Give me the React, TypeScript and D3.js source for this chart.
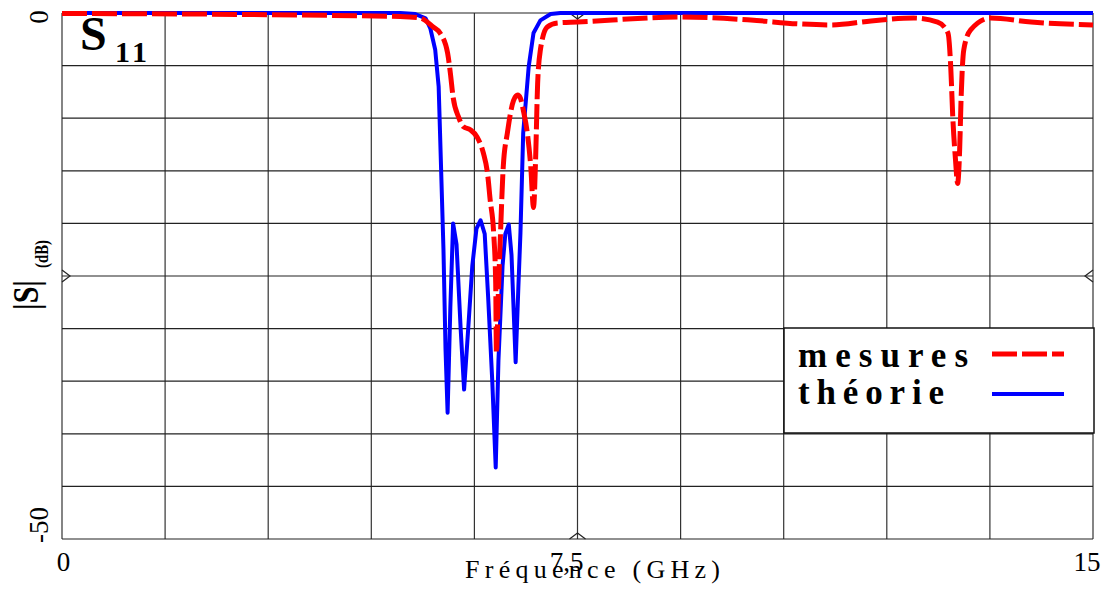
import React from "react";
import * as d3 from "d3";

// ---- Data ----
const freqTheory = [0, 4.92, 5.14, 5.29, 5.36, 5.43, 5.48, 5.5, 5.55, 5.58, 5.61, 5.65, 5.69, 5.74, 5.8, 5.85, 5.91, 5.97, 6.03, 6.09, 6.15, 6.2, 6.26, 6.31, 6.35, 6.41, 6.45, 6.5, 6.54, 6.6, 6.64, 6.67, 6.71, 6.79, 6.86, 6.96, 7.11, 7.25, 15];
const sTheory = [0, 0, -0.1, -0.5, -1.5, -3.5, -7, -11.4, -22.5, -32, -38, -28, -20, -22, -30, -35.8, -30, -24, -20.5, -19.7, -21, -27, -35, -43.2, -33, -24, -21, -20.1, -23, -33.2, -26, -20.9, -11.4, -5.1, -1.9, -0.7, -0.1, 0, 0];

const freqMeas = [0, 2.01, 3.47, 4.92, 5.21, 5.4, 5.5, 5.61, 5.65, 5.69, 5.77, 5.84, 5.94, 6.04, 6.13, 6.19, 6.23, 6.28, 6.31, 6.32, 6.35, 6.38, 6.42, 6.48, 6.57, 6.63, 6.67, 6.71, 6.77, 6.82, 6.86, 6.89, 6.92, 6.96, 7.06, 7.21, 7.5, 9.0, 10.02, 10.75, 11.18, 11.77, 12.39, 12.74, 12.89, 12.93, 12.96, 13.0, 13.03, 13.06, 13.08, 13.12, 13.22, 13.51, 14.1, 15.0];
const sMeas = [-0.05, -0.1, -0.2, -0.33, -0.48, -1.33, -1.9, -3.8, -5.7, -8.0, -9.9, -10.8, -11.1, -11.8, -13.3, -15.2, -17.8, -20.9, -25.7, -32.3, -26.3, -20.9, -14.6, -11.4, -8.3, -7.8, -8.1, -9.2, -11.4, -14.6, -18.5, -14.0, -6.7, -3.5, -1.33, -0.95, -0.86, -0.38, -0.67, -1.05, -1.14, -0.76, -0.48, -0.86, -1.9, -5.1, -9.9, -14, -16.2, -13, -8.3, -3.5, -1.6, -0.48, -0.86, -1.14];

const xTickValues = [0, 7.5, 15];
const xTickLabels = ["0", "7,5", "15"];
const yTickValues = [0, -50];
const yTickLabels = ["0", "-50"];
const xGrid = d3.range(0, 15.0001, 1.5);
const yGrid = d3.range(0, -50.0001, -5);

const legendLabels = ["mesures", "théorie"];

// ---- Layout ----
const W = 1107, H = 599;
const L = 62, R = 1093, T = 13, B = 539;
const serif = "'Liberation Serif', 'DejaVu Serif', serif";

export default function App() {
  const x = d3.scaleLinear().domain([0, 15]).range([L, R]);
  const y = d3.scaleLinear().domain([0, -50]).range([T, B]);

  const theoryPath = d3
    .line<number>()
    .x((_, i) => x(freqTheory[i]))
    .y((d) => y(d))
    .curve(d3.curveLinear)(sTheory);
  const measPath = d3
    .line<number>()
    .x((_, i) => x(freqMeas[i]))
    .y((d) => y(d))
    .curve(d3.curveMonotoneX)(sMeas);

  const xOffsets = [1.5, -11, -6];
  const midX = x(7.5);
  const midY = y(-25);

  return (
    <svg
      width={W}
      height={H}
      style={{ position: "absolute", left: 0, top: 0, background: "#fff" }}
      fontFamily={serif}
    >
      <rect x={0} y={0} width={W} height={H} fill="#fff" />
      {/* grid */}
      {xGrid.map((v, i) => (
        <line key={"gx" + i} x1={x(v)} x2={x(v)} y1={T} y2={B} stroke="#333" strokeWidth={1.2} />
      ))}
      {yGrid.map((v, i) => (
        <line key={"gy" + i} x1={L} x2={R} y1={y(v)} y2={y(v)} stroke="#222" strokeWidth={1.2} />
      ))}
      {/* mid markers */}
      <path d={`M${L},${midY - 6}L${L + 8},${midY}L${L},${midY + 6}`} fill="none" stroke="#222" strokeWidth={1.2} />
      <path d={`M${R},${midY - 6}L${R - 8},${midY}L${R},${midY + 6}`} fill="none" stroke="#222" strokeWidth={1.2} />
      <path d={`M${midX - 8},${B}L${midX},${B - 6}L${midX + 8},${B}`} fill="none" stroke="#222" strokeWidth={1.2} />
      <path d={`M${midX - 8},${T}L${midX},${T + 6}L${midX + 8},${T}`} fill="none" stroke="#222" strokeWidth={1.2} />

      {/* curves */}
      <path d={theoryPath || ""} fill="none" stroke="#0000ff" strokeWidth={4} strokeLinejoin="round" />
      <path d={measPath || ""} fill="none" stroke="#ff0000" strokeWidth={5} strokeDasharray="25,5" />

      {/* x tick labels */}
      {xTickValues.map((v, i) => (
        <text key={"xt" + i} x={x(v) + xOffsets[i]} y={571} fontSize={27} textAnchor="middle" fill="#000">
          {xTickLabels[i]}
        </text>
      ))}
      {/* y tick labels */}
      {yTickValues.map((v, i) => (
        <text
          key={"yt" + i}
          transform={`translate(48,${y(v) + 4}) rotate(-90)`}
          fontSize={27}
          textAnchor={i === 0 ? "middle" : "start"}
          fill="#000"
        >
          {yTickLabels[i]}
        </text>
      ))}

      {/* axis titles */}
      <text x={465} y={578} fontSize={26} textLength={255} lengthAdjust="spacing" fill="#000">
        Fréquence (GHz)
      </text>
      <text transform="translate(38,310) rotate(-90)" fontSize={35} fontWeight="bold" textLength={30} lengthAdjust="spacingAndGlyphs" fill="#000">
        |S|
      </text>
      <text transform="translate(48,268) rotate(-90)" fontSize={18} fontWeight="bold" textLength={28} lengthAdjust="spacingAndGlyphs" fill="#000">
        (dB)
      </text>

      {/* S11 label */}
      <text x={80} y={50} fontSize={48} fontWeight="bold" fill="#000">S</text>
      <text x={115} y={62} fontSize={30} fontWeight="bold" textLength={32} lengthAdjust="spacing" fill="#000">11</text>

      {/* legend */}
      <rect x={784} y={328} width={310} height={105} fill="#fff" stroke="#111" strokeWidth={1.5} />
      <text x={798} y={367} fontSize={35} fontWeight="bold" textLength={170} lengthAdjust="spacing" fill="#000">
        {legendLabels[0]}
      </text>
      <text x={798} y={404} fontSize={35} fontWeight="bold" textLength={146} lengthAdjust="spacing" fill="#000">
        {legendLabels[1]}
      </text>
      <line x1={992} x2={1064} y1={354} y2={354} stroke="#ff0000" strokeWidth={5} strokeDasharray="25,5" />
      <line x1={992} x2={1064} y1={394} y2={394} stroke="#0000ff" strokeWidth={4} />
    </svg>
  );
}
